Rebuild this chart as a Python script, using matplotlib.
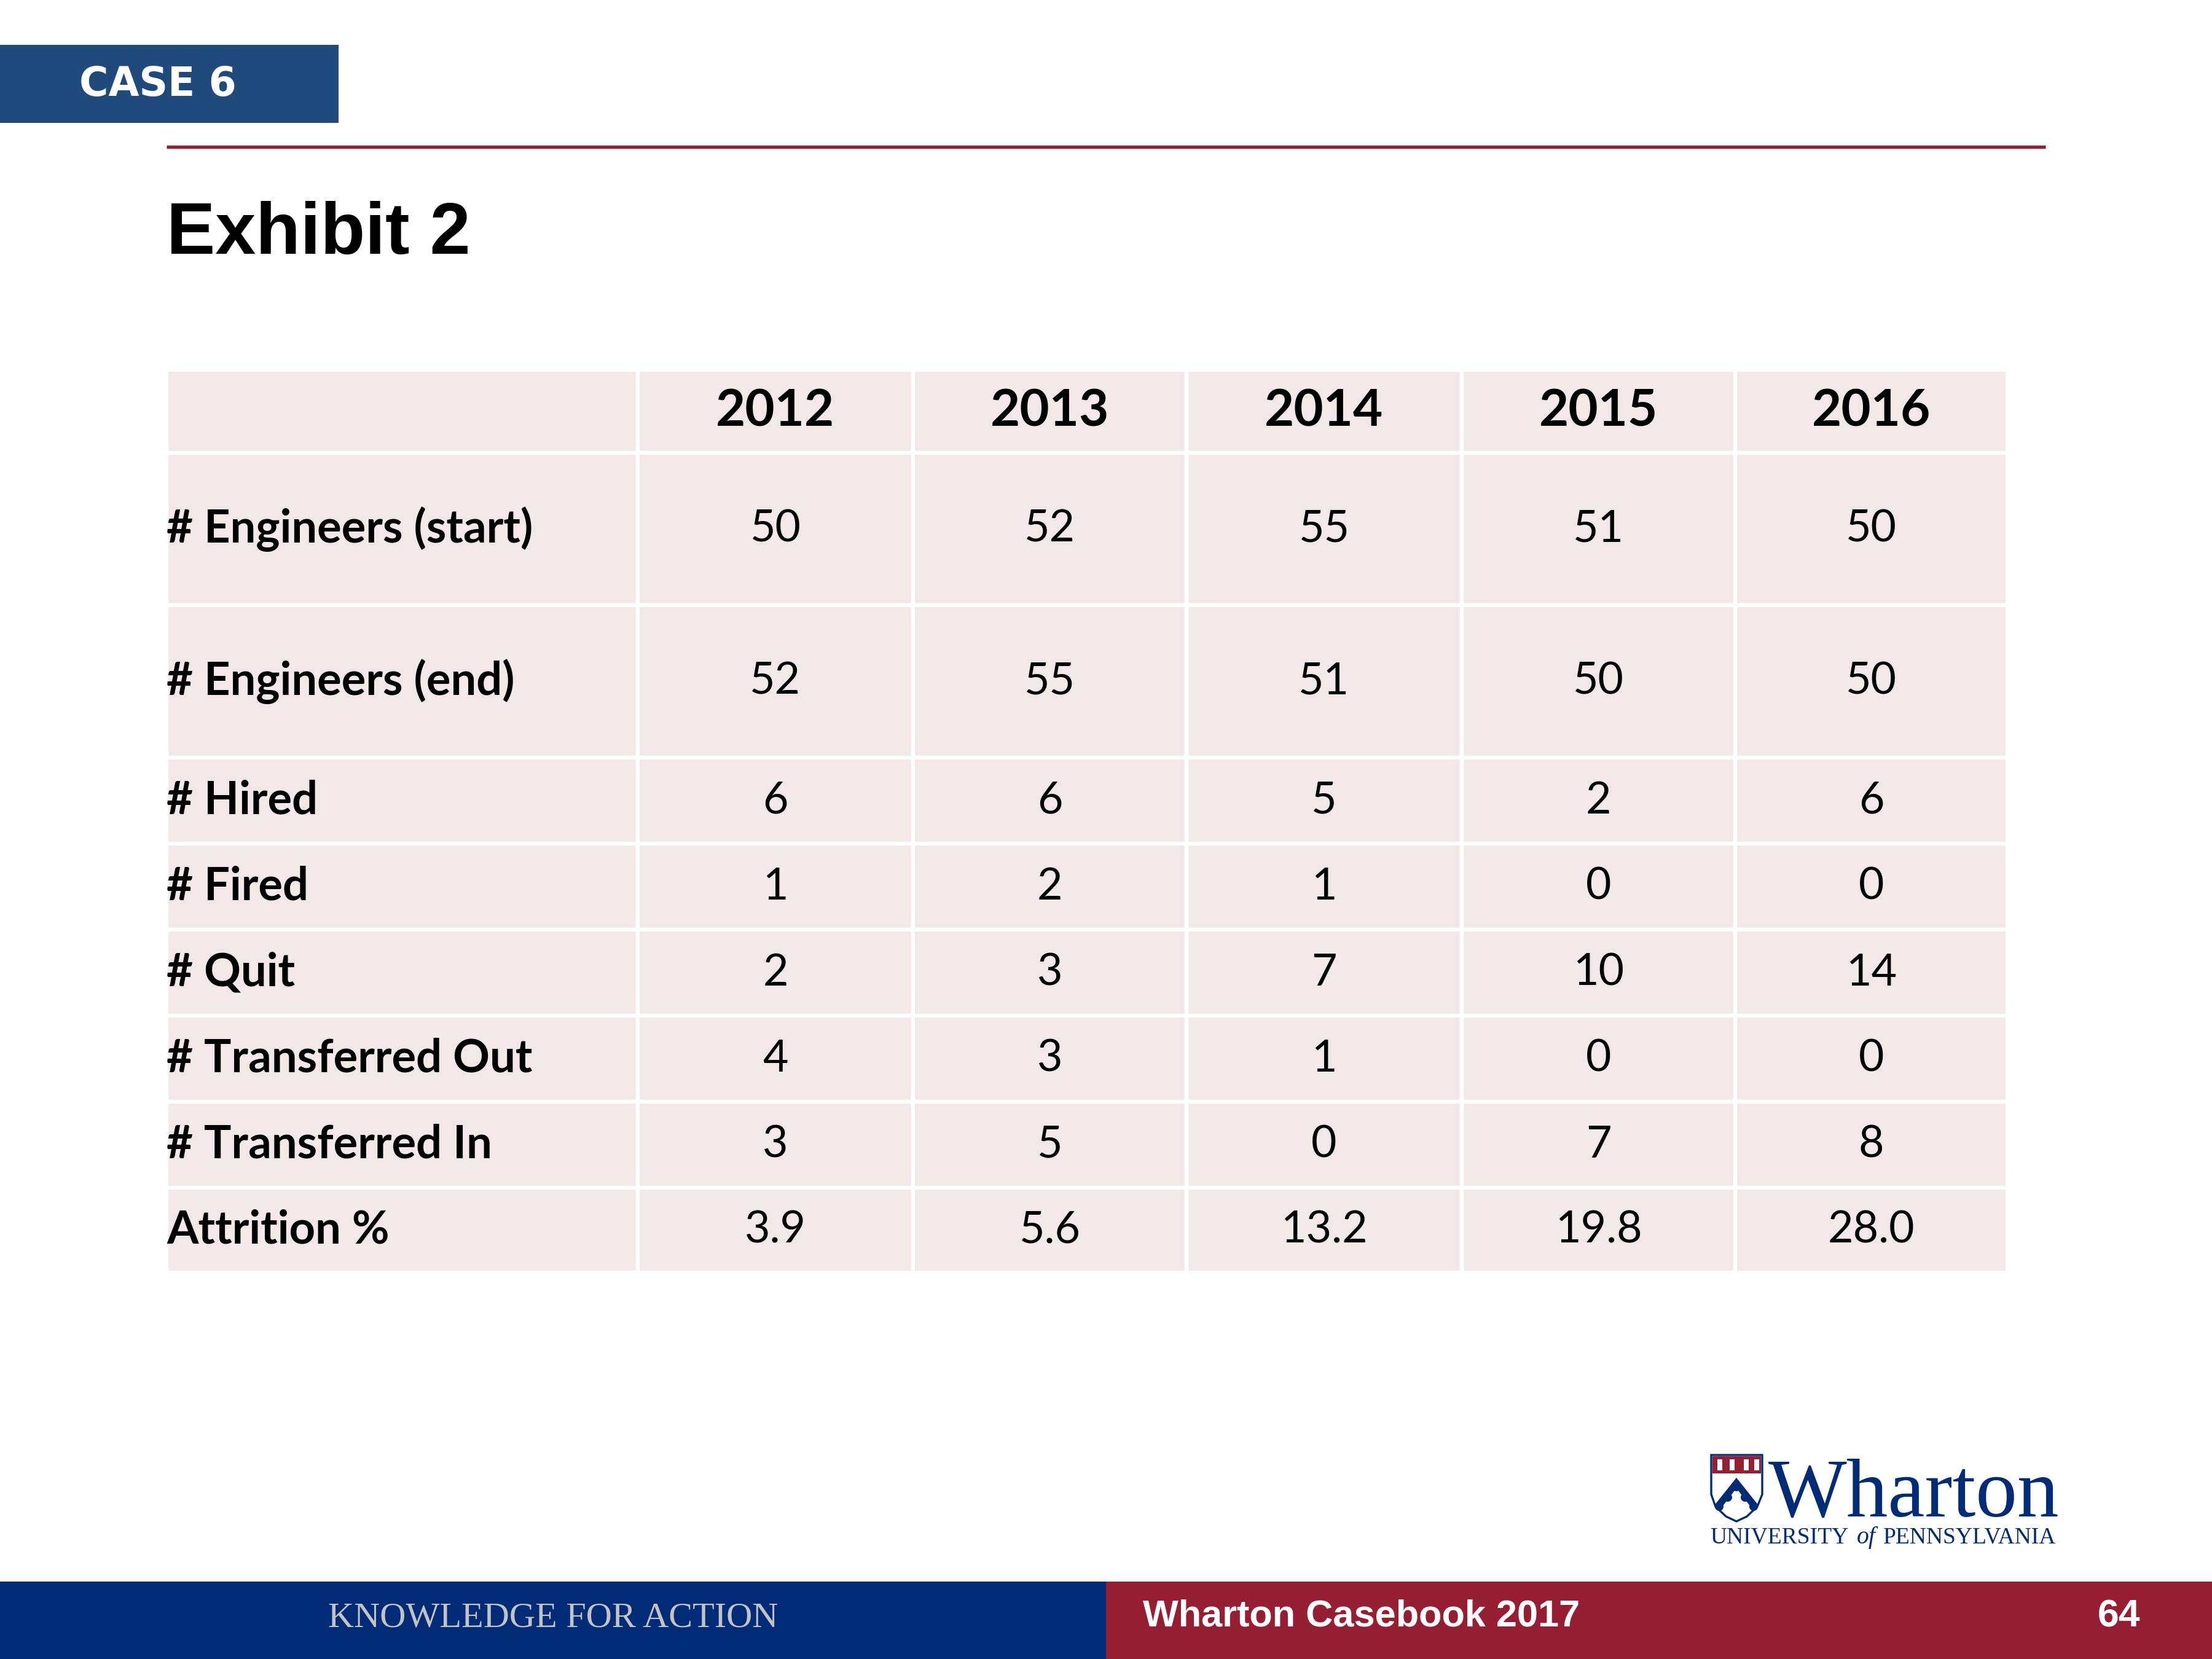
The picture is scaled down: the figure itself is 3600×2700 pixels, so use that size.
import matplotlib.pyplot as plt
from matplotlib.patches import Rectangle, Polygon, Circle

# table data
years = ["2012", "2013", "2014", "2015", "2016"]
row_labels = ["# Engineers (start)", "# Engineers (end)", "# Hired", "# Fired",
              "# Quit", "# Transferred Out", "# Transferred In", "Attrition %"]
engineers_start = [50, 52, 55, 51, 50]
engineers_end = [52, 55, 51, 50, 50]
hired = [6, 6, 5, 2, 6]
fired = [1, 2, 1, 0, 0]
quit_ = [2, 3, 7, 10, 14]
transferred_out = [4, 3, 1, 0, 0]
transferred_in = [3, 5, 0, 7, 8]
attrition = [3.9, 5.6, 13.2, 19.8, 28.0]

rows = [
    [str(v) for v in engineers_start],
    [str(v) for v in engineers_end],
    [str(v) for v in hired],
    [str(v) for v in fired],
    [str(v) for v in quit_],
    [str(v) for v in transferred_out],
    [str(v) for v in transferred_in],
    [f"{v:.1f}" for v in attrition],
]

NAVY = "#002c77"
CASE_BLUE = "#214a7c"
RED = "#961e32"
PINK = "#f2e8e8"
TABLE_FONT = "Lato"

fig = plt.figure(figsize=(12, 9), dpi=300)
ax = fig.add_axes([0, 0, 1, 1])
ax.set_xlim(0, 3600)
ax.set_ylim(2700, 0)
ax.axis("off")

# header
ax.add_patch(Rectangle((0, 73), 551, 127, color=CASE_BLUE, lw=0))
ax.text(257, 138, "CASE 6", color="white", fontsize=15.5, fontweight="bold",
        family="DejaVu Sans", ha="center", va="center")
ax.plot([271, 3329], [239, 239], color=RED, lw=1.3, solid_capstyle="butt")
ax.text(271, 413, "Exhibit 2", fontsize=28.5, fontweight="bold",
        family="Liberation Sans", ha="left", va="baseline")

# table layout
col_edges = [271, 1038, 1486, 1931, 2379, 2824, 3267]
row_edges = [602, 737, 985, 1233, 1373, 1513, 1653, 1793, 1933, 2071]

for r in range(len(row_edges) - 1):
    for c in range(len(col_edges) - 1):
        ax.add_patch(Rectangle((col_edges[c], row_edges[r]),
                               col_edges[c + 1] - col_edges[c],
                               row_edges[r + 1] - row_edges[r],
                               facecolor=PINK, edgecolor="white", lw=1.5))

for c, yr in enumerate(years):
    xc = (col_edges[c + 1] + col_edges[c + 2]) / 2
    ax.text(xc, (row_edges[0] + row_edges[1]) / 2, yr, fontsize=20,
            fontweight="bold", family=TABLE_FONT, ha="center", va="center")

for r, (lab, vals) in enumerate(zip(row_labels, rows)):
    yc = (row_edges[r + 1] + row_edges[r + 2]) / 2
    ax.text(col_edges[0], yc, lab, fontsize=17.8, fontweight="bold",
            family=TABLE_FONT, ha="left", va="center")
    for c, v in enumerate(vals):
        xc = (col_edges[c + 1] + col_edges[c + 2]) / 2
        ax.text(xc, yc, v, fontsize=17.2, family=TABLE_FONT,
                ha="center", va="center")

# logo
shield = Polygon([(2785, 2368), (2868, 2368), (2868, 2432), (2860, 2452),
                  (2843, 2468), (2826, 2476), (2809, 2468), (2792, 2452),
                  (2785, 2432)], closed=True, facecolor="white",
                 edgecolor=NAVY, lw=0.8)
ax.add_patch(shield)
ax.add_patch(Rectangle((2787, 2370), 79, 28, color=RED, lw=0))
for bx in [2795, 2815, 2838, 2855]:
    ax.add_patch(Rectangle((bx, 2375), 8, 18, color="white", lw=0))
ax.add_patch(Polygon([(2790, 2450), (2826, 2405), (2862, 2450), (2852, 2456),
                      (2826, 2422), (2800, 2456)], closed=True, color=NAVY, lw=0))
for cx, cy in [(2826, 2420), (2812, 2437), (2840, 2437), (2798, 2452), (2854, 2452)]:
    ax.add_patch(Circle((cx, cy), 7, color=NAVY, lw=0))

ax.text(2878, 2468, "Wharton", fontsize=32.5, family="Liberation Serif",
        color=NAVY, ha="left", va="baseline")
ax.text(2783, 2512, "UNIVERSITY", fontsize=9, family="Liberation Serif",
        color=NAVY, ha="left", va="baseline")
ax.text(3037, 2512, "of", fontsize=9.5, family="Liberation Serif", style="italic",
        color=NAVY, ha="center", va="baseline")
ax.text(3346, 2512, "PENNSYLVANIA", fontsize=9, family="Liberation Serif",
        color=NAVY, ha="right", va="baseline")

# footer
ax.add_patch(Rectangle((0, 2574), 1800, 126, color=NAVY, lw=0))
ax.add_patch(Rectangle((1800, 2574), 1800, 126, color=RED, lw=0))
ax.text(900, 2633, "KNOWLEDGE FOR ACTION", fontsize=14, family="Liberation Serif",
        color="#c3c3c3", ha="center", va="center")
ax.text(1860, 2631, "Wharton Casebook 2017", fontsize=14.7, fontweight="bold",
        family="Liberation Sans", color="white", ha="left", va="center")
ax.text(3449, 2631, "64", fontsize=15, fontweight="bold",
        family="Liberation Sans", color="white", ha="center", va="center")

fig.savefig("out.png", dpi=300, facecolor="white")
